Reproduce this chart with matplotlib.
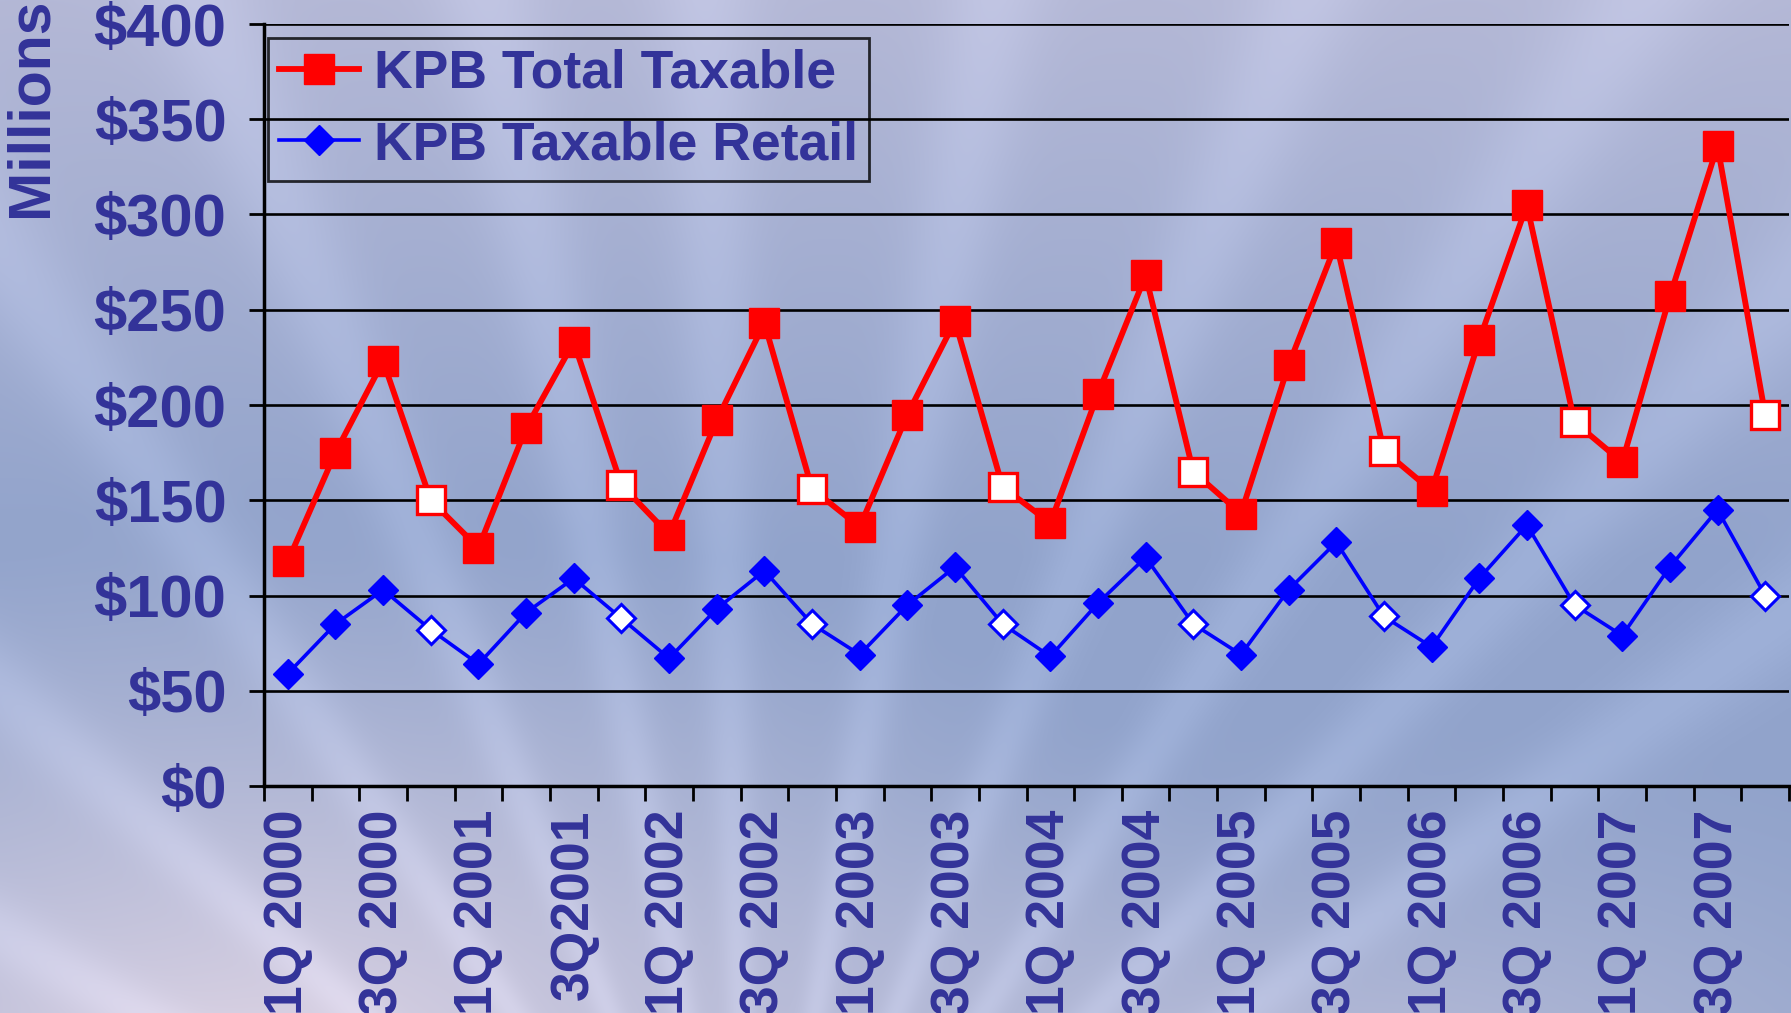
import numpy as np
import matplotlib
matplotlib.use("Agg")
import matplotlib.pyplot as plt
from matplotlib.lines import Line2D

# ---------------- data ----------------
quarters = [f"{q}Q {y}" for y in range(2000, 2008) for q in (1, 2, 3, 4)]
tick_labels = ["1Q 2000", "3Q 2000", "1Q 2001", "3Q2001", "1Q 2002", "3Q 2002",
               "1Q 2003", "3Q 2003", "1Q 2004", "3Q 2004", "1Q 2005", "3Q 2005",
               "1Q 2006", "3Q 2006", "1Q 2007", "3Q 2007"]
total_taxable = [118, 175, 223, 150, 125, 188, 233, 158,
                 132, 192, 243, 156, 136, 195, 244, 157,
                 138, 206, 268, 165, 143, 221, 285, 176,
                 155, 234, 305, 191, 170, 257, 336, 195]
taxable_retail = [59, 85, 103, 82, 64, 91, 109, 88,
                  67, 93, 113, 85, 69, 95, 115, 85,
                  68, 96, 120, 85, 69, 103, 128, 89,
                  73, 109, 137, 95, 79, 115, 145, 100]
y_ticks = [0, 50, 100, 150, 200, 250, 300, 350, 400]

TEXT = "#333399"
RED = "#FF0000"
BLUE = "#0000FF"
FONT = "Liberation Sans"

W, H = 1791, 1013
fig = plt.figure(figsize=(W / 100, H / 100), dpi=100)

# ---------------- background ----------------
bg = fig.add_axes([0, 0, 1, 1], zorder=0)
yy, xx = np.mgrid[0:H, 0:W]
u = xx / W
v = yy / H
top = np.array([180, 184, 214]) / 255
mid = np.array([145, 163, 203]) / 255
pink = np.array([222, 212, 228]) / 255
t = np.clip(v / 0.55, 0, 1)[..., None]
img = top * (1 - t) + mid * t
d = np.sqrt(((u - 0.15) / 0.6) ** 2 + ((v - 1.05) / 0.55) ** 2)
g = np.clip(1 - d, 0, 1)[..., None] ** 1.2
img = img * (1 - g) + pink * g
d2 = np.sqrt(((u - 0.75) / 0.5) ** 2 + ((v - 1.1) / 0.4) ** 2)
g2 = np.clip(1 - d2, 0, 1)[..., None] ** 1.5 * 0.6
img = img * (1 - g2) + pink * g2
cx, cy = 0.42 * W, 1.35 * H
ang = np.degrees(np.arctan2(cy - yy, xx - cx))
ray_angles = [150, 138, 124, 112, 101, 92, 80, 68, 57, 46, 36]
ray = np.zeros_like(ang)
for a in ray_angles:
    ray += np.exp(-((ang - a) / 2.2) ** 2)
img = img + (ray * 0.05)[..., None]
img = np.clip(img, 0, 1)
bg.imshow(img, extent=[0, 1, 0, 1], aspect="auto", interpolation="bilinear")
bg.set_axis_off()

# ---------------- main axes ----------------
left, right, topp, bottom = 264, 1789, 24, 786
ax = fig.add_axes([left / W, 1 - bottom / H, (right - left) / W, (bottom - topp) / H], zorder=1)
ax.patch.set_alpha(0)

n = len(quarters)
x = np.arange(n) + 0.5
ax.set_xlim(0, n)
ax.set_ylim(0, 400)

for yv in y_ticks[1:]:
    ax.axhline(yv, color="black", lw=1.9, zorder=1)

fourth = np.array([i % 4 == 3 for i in range(n)])
tt = np.array(total_taxable)
tr = np.array(taxable_retail)

ax.plot(x, tt, color=RED, lw=4.2, zorder=3)
ax.plot(x[~fourth], tt[~fourth], ls="none", marker="s", ms=21.5, mfc=RED, mec=RED, mew=1.0, zorder=4)
ax.plot(x[fourth], tt[fourth], ls="none", marker="s", ms=20, mfc="white", mec=RED, mew=2.4, zorder=4)

ax.plot(x, tr, color=BLUE, lw=2.6, zorder=3)
ax.plot(x[~fourth], tr[~fourth], ls="none", marker="D", ms=15, mfc=BLUE, mec=BLUE, mew=1.0, zorder=4)
ax.plot(x[fourth], tr[fourth], ls="none", marker="D", ms=14, mfc="white", mec=BLUE, mew=2.2, zorder=4)

for s in ["top", "right"]:
    ax.spines[s].set_visible(False)
for s in ["left", "bottom"]:
    ax.spines[s].set_linewidth(2.5)
    ax.spines[s].set_color("black")

ax.set_yticks(y_ticks)
ax.set_yticklabels([f"${v}" for v in y_ticks])
ax.tick_params(axis="y", length=11, width=2, pad=16, labelcolor=TEXT)
for lab in ax.get_yticklabels():
    lab.set_fontfamily(FONT)
    lab.set_fontweight("bold")
    lab.set_fontsize(43)

ax.set_xticks(np.arange(0, n + 1))
ax.set_xticklabels([])
ax.tick_params(axis="x", which="major", length=11, width=2)
ax.set_xticks(x[::2], minor=True)
ax.set_xticklabels(tick_labels, minor=True, rotation=90, va="top", ha="center")
ax.tick_params(axis="x", which="minor", length=0, pad=17, labelcolor=TEXT)
for lab in ax.get_xticklabels(minor=True):
    lab.set_fontfamily(FONT)
    lab.set_fontweight("bold")
    lab.set_fontsize(38.5)

fig.text(0.0175, 1 - 217 / H, "Millions", rotation=90, ha="center", va="bottom",
         color=TEXT, fontsize=42.5, fontweight="bold", fontfamily=FONT)

handles = [
    Line2D([], [], color=RED, lw=4.2, marker="s", ms=21.5, mfc=RED, mec=RED),
    Line2D([], [], color=BLUE, lw=2.6, marker="D", ms=15, mfc=BLUE, mec=BLUE),
]
leg = fig.legend(handles, ["KPB Total Taxable", "KPB Taxable Retail"],
                 loc="upper left", bbox_to_anchor=(268 / W, 1 - 38 / H),
                 borderaxespad=0, frameon=True, fancybox=False,
                 handlelength=1.5, handletextpad=0.28, borderpad=0.2,
                 labelspacing=0.4, prop={"family": FONT, "weight": "bold", "size": 38.5})
leg.get_frame().set_facecolor("none")
leg.get_frame().set_edgecolor("black")
leg.get_frame().set_linewidth(2)
for txt in leg.get_texts():
    txt.set_color(TEXT)
leg.set_zorder(5)

fig.savefig("out.png", dpi=100)
